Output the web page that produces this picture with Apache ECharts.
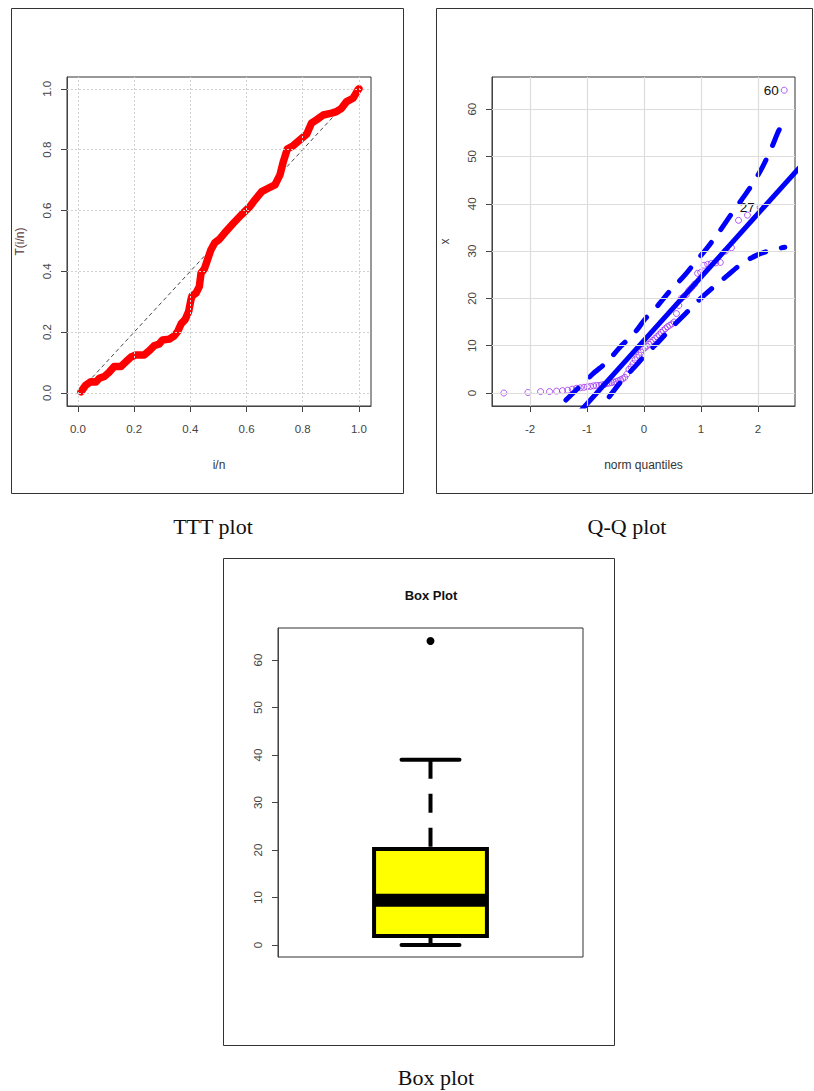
<!DOCTYPE html>
<html>
<head>
<meta charset="utf-8">
<script src="https://cdn.jsdelivr.net/npm/echarts@6/dist/echarts.min.js"></script>
<style>
html, body { margin: 0; padding: 0; background: #fff; }
#main { width: 814px; height: 1091px; }
</style>
</head>
<body>
<div id="main"></div>
<script>
// ---- TTT plot ----
var tttU = [0.011, 0.028, 0.046, 0.064, 0.076, 0.094, 0.110, 0.129, 0.153, 0.171, 0.189, 0.206, 0.236, 0.254,
	0.271, 0.289, 0.301, 0.325, 0.343, 0.355, 0.367, 0.382, 0.394, 0.402, 0.406, 0.420, 0.432, 0.438, 0.450,
	0.461, 0.473, 0.487, 0.503, 0.521, 0.553, 0.582, 0.612, 0.630, 0.654, 0.677, 0.701, 0.719, 0.731, 0.745,
	0.766, 0.790, 0.814, 0.831, 0.849, 0.873, 0.903, 0.920, 0.938, 0.956, 0.979, 0.996, 1.000];
var tttT = [0.004, 0.026, 0.037, 0.036, 0.048, 0.054, 0.067, 0.087, 0.087, 0.103, 0.118, 0.125, 0.125, 0.139,
	0.155, 0.161, 0.174, 0.177, 0.188, 0.202, 0.227, 0.242, 0.268, 0.306, 0.319, 0.328, 0.350, 0.394, 0.408,
	0.438, 0.470, 0.494, 0.505, 0.525, 0.558, 0.586, 0.613, 0.635, 0.662, 0.673, 0.684, 0.717, 0.761, 0.802,
	0.813, 0.832, 0.851, 0.887, 0.898, 0.914, 0.920, 0.925, 0.936, 0.958, 0.969, 0.996, 1.000];
var tttTicks = [0, 0.2, 0.4, 0.6, 0.8, 1.0];

// ---- Q-Q plot ----
var normQ = [-2.460, -2.037, -1.815, -1.658, -1.534, -1.430, -1.339, -1.258, -1.184, -1.117, -1.054, -0.995,
	-0.940, -0.887, -0.837, -0.788, -0.742, -0.697, -0.653, -0.611, -0.569, -0.528, -0.489, -0.450,
	-0.411, -0.374, -0.337, -0.300, -0.264, -0.228, -0.193, -0.157, -0.122, -0.087, -0.052, -0.017,
	0.017, 0.052, 0.087, 0.122, 0.157, 0.193, 0.228, 0.264, 0.300, 0.337, 0.374, 0.411,
	0.450, 0.489, 0.528, 0.569, 0.611, 0.653, 0.697, 0.742, 0.788, 0.837, 0.887, 0.940,
	0.995, 1.054, 1.117, 1.184, 1.258, 1.339, 1.430, 1.534, 1.658, 1.815, 2.037, 2.460];
var sortedX = [0.0, 0.1, 0.3, 0.3, 0.4, 0.5, 0.6, 0.8, 1.0, 1.1, 1.2, 1.3,
	1.4, 1.5, 1.6, 1.6, 1.7, 1.8, 2.0, 2.1, 2.2, 2.3, 2.4, 2.6,
	2.8, 3.0, 3.3, 4.0, 5.0, 5.5, 6.2, 7.0, 7.5, 8.0, 8.6, 9.2,
	9.6, 9.9, 10.3, 10.7, 11.1, 11.5, 11.9, 12.3, 12.8, 13.2, 13.6, 14.0,
	14.3, 14.6, 15.0, 16.8, 18.5, 20.0, 20.4, 20.8, 21.7, 22.3, 23.0, 25.3,
	25.5, 27.0, 27.2, 27.4, 27.5, 27.6, 30.0, 30.7, 36.5, 37.6, 39.2, 64.0];
var pointIds = { 70: '27', 71: '60' };   // position in sortedX -> observation number
var qqLineQ = [-1.3, 2.8];
var qqLineX = [-6.3, 48.6];
var upperQ = [-1.37, -0.91, -0.64, -0.42, -0.16, 0.03, 0.25, 0.47, 0.70, 0.91, 1.11, 1.32, 1.52, 1.71, 1.91, 2.08, 2.24, 2.37, 2.47];
var upperX = [-1.5, 3.9, 6.7, 9.7, 12.8, 15.8, 18.6, 21.8, 24.7, 27.8, 30.7, 34.1, 37.6, 40.8, 44.3, 47.8, 51.9, 55.6, 57.5];
var lowerQ = [-0.61, -0.41, -0.18, 0.06, 0.26, 0.53, 0.73, 0.96, 1.20, 1.46, 1.71, 1.99, 2.26, 2.47];
var lowerX = [-0.8, 2.3, 5.3, 8.5, 10.9, 14.4, 16.8, 19.6, 22.2, 24.8, 27.3, 29.2, 30.3, 30.8];
var qqTicksQ = [-2, -1, 0, 1, 2];
var qqTicksX = [0, 10, 20, 30, 40, 50, 60];

// ---- Box plot ----
var boxStats = [0, 1.9, 9.4, 20.2, 39];   // min, Q1, median, Q3, max
var boxOutliers = [64];
var boxTicks = [0, 10, 20, 30, 40, 50, 60];

function zip(a, b) {
	return a.map(function (v, i) { return [v, b[i]]; });
}

var FONT = 'Liberation Sans, Arial, sans-serif';
var NARROW = 'Liberation Sans Narrow, Liberation Sans, Arial, sans-serif';

function axis(grid, min, max, ticks, opts) {
	opts = opts || {};
	return {
		type: 'value',
		gridIndex: grid,
		min: min,
		max: max,
		show: opts.show !== false,
		name: opts.name || '',
		nameLocation: 'middle',
		nameGap: opts.nameGap || 40,
		nameTextStyle: { fontFamily: opts.nameFont || FONT, fontSize: 12, color: opts.nameColor || '#333' },
		axisLine: { show: true, onZero: false, lineStyle: { color: '#444', width: 1 } },
		axisTick: { show: true, customValues: ticks, length: 6, lineStyle: { color: '#444' } },
		axisLabel: {
			customValues: ticks,
			rotate: opts.rotate || 0,
			margin: opts.margin || 14,
			fontFamily: FONT,
			fontSize: 11.5,
			color: '#444',
			formatter: opts.fmt || function (v) { return String(v); }
		},
		splitLine: { show: false }
	};
}

function gridLines(xs, ys, style) {
	var d = [];
	xs.forEach(function (v) { d.push({ xAxis: v }); });
	ys.forEach(function (v) { d.push({ yAxis: v }); });
	return { silent: true, symbol: 'none', label: { show: false }, lineStyle: style, data: d, animation: false };
}

var dom = document.getElementById('main');
var myChart = echarts.init(dom, null, { renderer: 'svg' });

var qqPoints = zip(normQ, sortedX).map(function (p, i) {
	if (pointIds[i]) {
		return {
			value: p,
			label: { show: true, position: 'left', distance: 2, formatter: pointIds[i],
				fontFamily: NARROW, fontSize: 13.5, color: '#111' }
		};
	}
	return p;
});

var fmt1 = function (v) { return v.toFixed(1); };

option = {
	animation: false,
	backgroundColor: '#fff',
	grid: [
		{ left: 67, top: 77, width: 304, height: 329, show: true, borderColor: '#333', borderWidth: 1 },
		{ left: 492, top: 77, width: 303, height: 329, show: true, borderColor: '#333', borderWidth: 1 },
		{ left: 278, top: 628, width: 305, height: 329, show: true, borderColor: '#333', borderWidth: 1 }
	],
	xAxis: [
		axis(0, -0.039, 1.043, tttTicks, { name: 'i/n', nameGap: 53, margin: 17, fmt: fmt1 }),
		axis(1, -2.667, 2.649, qqTicksQ, { name: 'norm quantiles', nameGap: 53, margin: 17, nameFont: NARROW }),
		axis(2, 0.5, 1.5, [], { show: false })
	],
	yAxis: [
		axis(0, -0.043, 1.039, tttTicks, { name: 'T(i/n)', nameGap: 41, rotate: 90, margin: 14, fmt: fmt1, nameColor: '#5a3a3a' }),
		axis(1, -2.75, 66.8, qqTicksX, { name: 'x', nameGap: 41, rotate: 90, margin: 14 }),
		axis(2, -2.53, 66.74, boxTicks, { rotate: 90, margin: 14 })
	],
	graphic: [
		{ type: 'rect', shape: { x: 11.5, y: 8.5, width: 392, height: 485 }, style: { fill: 'none', stroke: '#333', lineWidth: 1 } },
		{ type: 'rect', shape: { x: 436.5, y: 8.5, width: 376, height: 485 }, style: { fill: 'none', stroke: '#333', lineWidth: 1 } },
		{ type: 'rect', shape: { x: 223.5, y: 558.5, width: 391, height: 487 }, style: { fill: 'none', stroke: '#333', lineWidth: 1 } },
		{ type: 'text', x: 213, y: 526, style: { text: 'TTT plot', font: '22px "Liberation Serif", "Times New Roman", serif', fill: '#111', textAlign: 'center', textVerticalAlign: 'middle' } },
		{ type: 'text', x: 627, y: 526, style: { text: 'Q-Q plot', font: '22px "Liberation Serif", "Times New Roman", serif', fill: '#111', textAlign: 'center', textVerticalAlign: 'middle' } },
		{ type: 'text', x: 436, y: 1077, style: { text: 'Box plot', font: '22px "Liberation Serif", "Times New Roman", serif', fill: '#111', textAlign: 'center', textVerticalAlign: 'middle' } },
		{ type: 'text', x: 431, y: 595, style: { text: 'Box Plot', font: 'bold 13px "Liberation Sans", Arial, sans-serif', fill: '#111', textAlign: 'center', textVerticalAlign: 'middle' } }
	],
	series: [
		// TTT: diagonal reference + dotted grid
		{
			type: 'line', xAxisIndex: 0, yAxisIndex: 0, z: 1,
			data: [[0, 0], [1, 1]], symbol: 'none',
			lineStyle: { color: '#333', width: 0.9, type: [4, 3] },
			markLine: gridLines(tttTicks, tttTicks, { color: '#d0d0d0', width: 1, type: [2, 2] })
		},
		{
			type: 'line', xAxisIndex: 0, yAxisIndex: 0, z: 3,
			data: zip(tttU, tttT), symbol: 'none',
			lineStyle: { color: '#ff0000', width: 7.5, cap: 'round', join: 'round' }
		},
		// Q-Q: points with solid grid
		{
			type: 'scatter', xAxisIndex: 1, yAxisIndex: 1, z: 2,
			data: qqPoints, symbol: 'circle', symbolSize: 6,
			itemStyle: { color: 'rgba(255,255,255,0)', borderColor: '#a030f0', borderWidth: 0.8, opacity: 1 },
			markLine: gridLines(qqTicksQ, qqTicksX, { color: '#dddddd', width: 1.2, type: 'solid' })
		},
		{
			type: 'line', xAxisIndex: 1, yAxisIndex: 1, z: 4,
			data: zip(qqLineQ, qqLineX), symbol: 'none',
			lineStyle: { color: '#0000ff', width: 5 }
		},
		{
			type: 'line', xAxisIndex: 1, yAxisIndex: 1, z: 4, smooth: 0.3,
			data: zip(upperQ, upperX), symbol: 'none',
			lineStyle: { color: '#0000ff', width: 5, type: [17, 16], cap: 'round' }
		},
		{
			type: 'line', xAxisIndex: 1, yAxisIndex: 1, z: 4, smooth: 0.3,
			data: zip(lowerQ, lowerX), symbol: 'none',
			lineStyle: { color: '#0000ff', width: 5, type: [17, 16], cap: 'round' }
		},
		// Box plot
		{
			type: 'custom', xAxisIndex: 2, yAxisIndex: 2, z: 3,
			data: [[1].concat(boxStats)],
			renderItem: function (params, api) {
				var x = api.value(0);
				var lo = api.coord([x, api.value(1)]);
				var q1 = api.coord([x, api.value(2)]);
				var md = api.coord([x, api.value(3)]);
				var q3 = api.coord([x, api.value(4)]);
				var hi = api.coord([x, api.value(5)]);
				var half = api.size([0.37, 0])[0] / 2;
				var capHalf = api.size([0.19, 0])[0] / 2;
				var cx = lo[0];
				var stroke = { stroke: '#000', lineWidth: 4, lineCap: 'round' };
				return {
					type: 'group',
					children: [
						{ type: 'line', shape: { x1: cx, y1: hi[1], x2: cx, y2: q3[1] }, style: { stroke: '#000', lineWidth: 4, lineDash: [19, 15] } },
						{ type: 'line', shape: { x1: cx, y1: lo[1], x2: cx, y2: q1[1] }, style: { stroke: '#000', lineWidth: 4 } },
						{ type: 'line', shape: { x1: cx - capHalf, y1: hi[1], x2: cx + capHalf, y2: hi[1] }, style: stroke },
						{ type: 'line', shape: { x1: cx - capHalf, y1: lo[1], x2: cx + capHalf, y2: lo[1] }, style: stroke },
						{ type: 'rect', shape: { x: cx - half, y: q3[1], width: half * 2, height: q1[1] - q3[1] }, style: { fill: '#ffff00', stroke: '#000', lineWidth: 4 } },
						{ type: 'rect', shape: { x: cx - half, y: md[1] - 6.5, width: half * 2, height: 13 }, style: { fill: '#000' } }
					]
				};
			}
		},
		{
			type: 'scatter', xAxisIndex: 2, yAxisIndex: 2, z: 4,
			data: boxOutliers.map(function (v) { return [1, v]; }),
			symbol: 'circle', symbolSize: 8, itemStyle: { color: '#000', opacity: 1 }
		}
	]
};

if (option && typeof option === 'object') {
	myChart.setOption(option, true);
}
</script>
</body>
</html>
